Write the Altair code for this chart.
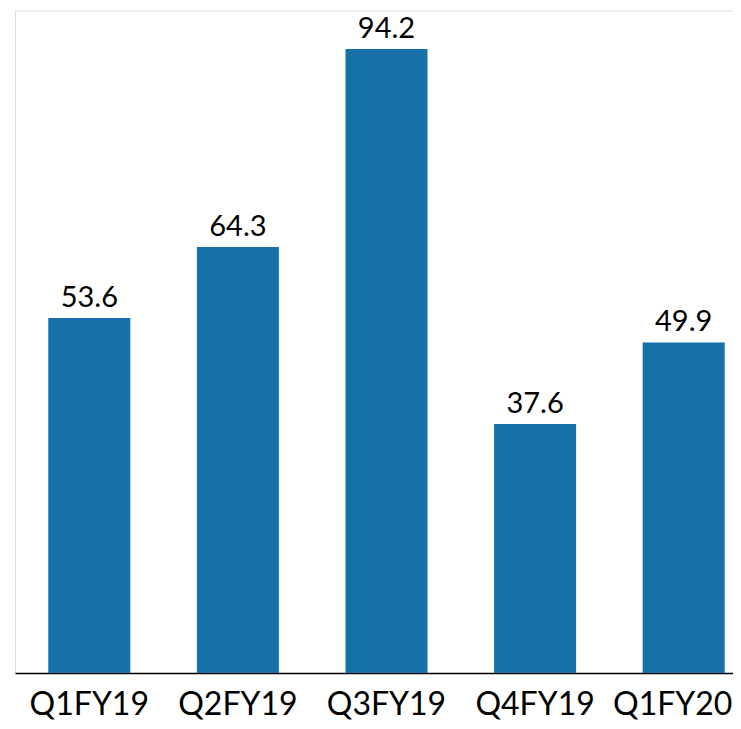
import altair as alt
import pandas as pd

quarters = ["Q1FY19", "Q2FY19", "Q3FY19", "Q4FY19", "Q1FY20"]
values = [53.6, 64.3, 94.2, 37.6, 49.9]

df = pd.DataFrame({"quarter": quarters, "value": values})

FONT = "Lato"

base = alt.Chart(df).encode(
    x=alt.X(
        "quarter:N",
        sort=quarters,
        title=None,
        scale=alt.Scale(range=[0, 743], paddingInner=0.448, paddingOuter=0.224),
        axis=alt.Axis(
            labelAngle=0,
            labelFont=FONT,
            labelFontSize=32,
            labelColor="black",
            labelBaseline="alphabetic",
            labelPadding=41,
            labelOffset={
                "condition": {"test": "datum.value === 'Q1FY20'", "value": -11},
                "value": 0,
            },
            ticks=False,
            tickSize=0,
            domainColor="black",
            domainWidth=1.5,
            grid=False,
        ),
    ),
    y=alt.Y("value:Q", scale=alt.Scale(domain=[0, 100], nice=False), axis=None),
)

bars = base.mark_bar(color="#1571a7")
labels = base.mark_text(
    font=FONT, fontSize=29, color="black", baseline="alphabetic", dy=-11
).encode(text=alt.Text("value:Q", format=".1f"))

chart = (
    (bars + labels)
    .properties(
        width=718,
        height=662.4,
        autosize=alt.AutoSizeParams(type="none"),
        padding={"left": 7, "top": 2.6, "right": 0, "bottom": 48},
    )
    .configure_view(strokeOpacity=0, strokeWidth=0, fill="white")
    .configure_axis(grid=False)
    .configure(background="white")
)

chart.save("out.html", embed_options={"renderer": "svg", "actions": False})
